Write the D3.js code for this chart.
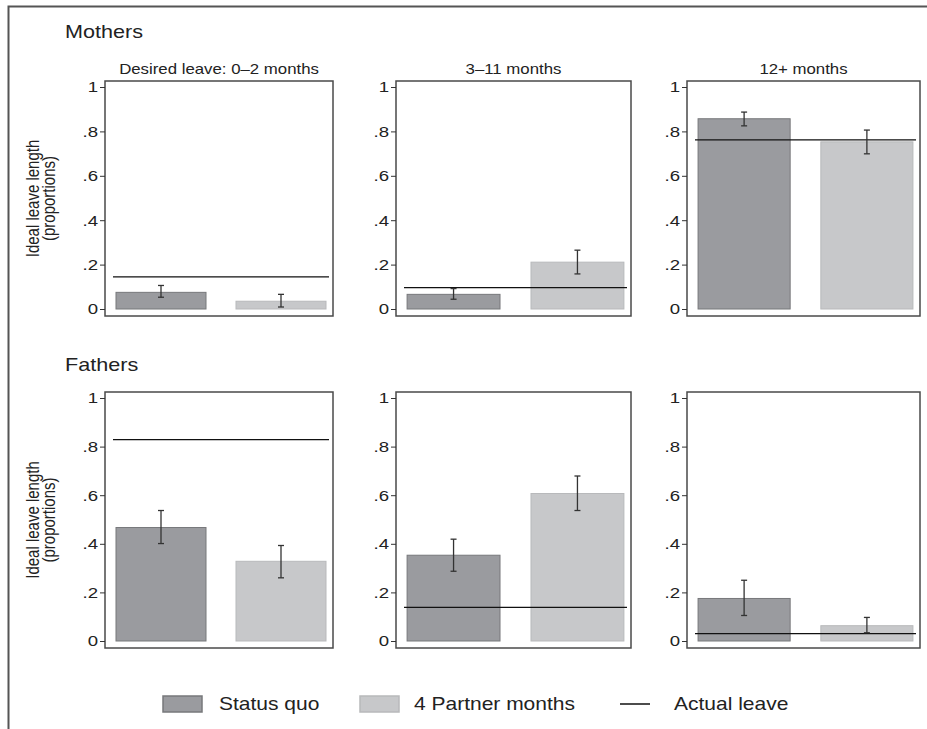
<!DOCTYPE html>
<html>
<head>
<meta charset="utf-8">
<script src="https://cdn.jsdelivr.net/npm/d3@7"></script>
<style>
  body { margin: 0; background: #fff; }
  svg { display: block; font-family: "Liberation Sans", Arial, Helvetica, sans-serif; }
</style>
</head>
<body>
<div id="chart"></div>
<script>
// ── Data ─────────────────────────────────────────────────────────────────────
const groups     = ['Mothers', 'Fathers'];
const leaveCats  = ['Desired leave: 0–2 months', '3–11 months', '12+ months'];
const series     = ['Status quo', '4 Partner months'];
const yTicks     = [0, 0.2, 0.4, 0.6, 0.8, 1];

// proportions per leave category (0–2, 3–11, 12+)
const mothersStatus    = [0.075, 0.066, 0.857];
const mothersStatusLo  = [0.053, 0.044, 0.825];
const mothersStatusHi  = [0.106, 0.092, 0.887];
const mothersPartner   = [0.035, 0.211, 0.753];
const mothersPartnerLo = [0.009, 0.158, 0.699];
const mothersPartnerHi = [0.066, 0.265, 0.806];
const mothersActual    = [0.145, 0.096, 0.762];

const fathersStatus    = [0.467, 0.353, 0.175];
const fathersStatusLo  = [0.401, 0.287, 0.105];
const fathersStatusHi  = [0.537, 0.419, 0.250];
const fathersPartner   = [0.328, 0.607, 0.063];
const fathersPartnerLo = [0.260, 0.537, 0.034];
const fathersPartnerHi = [0.393, 0.679, 0.097];
const fathersActual    = [0.829, 0.138, 0.030];

const panelData = {
  Mothers: { val: [mothersStatus, mothersPartner], lo: [mothersStatusLo, mothersPartnerLo],
             hi: [mothersStatusHi, mothersPartnerHi], actual: mothersActual },
  Fathers: { val: [fathersStatus, fathersPartner], lo: [fathersStatusLo, fathersPartnerLo],
             hi: [fathersStatusHi, fathersPartnerHi], actual: fathersActual }
};

// ── Layout ───────────────────────────────────────────────────────────────────
const W = 927, H = 729;
const SX = 1.2;                       // text in the original is a bit wide
const colL = [105, 396, 687], colR = [333, 631, 920];
const rowT = [81, 392], rowB = [316, 648];
const titleY = [38, 371];
const fill   = ['#9a9b9f', '#c7c8ca'];
const stroke = ['#77787b', '#b8b9bb'];
const ink = '#222';

const svg = d3.select('#chart').append('svg').attr('width', W).attr('height', H);

// stretched text helper
function txt(g, x, y, s, size, anchor = 'start') {
  return g.append('text')
    .attr('transform', `translate(${x},${y}) scale(${SX},1)`)
    .attr('font-size', size).attr('fill', ink)
    .attr('text-anchor', anchor).text(s);
}

// outer frame (left and top edges show)
svg.append('path').attr('d', `M8.5,${H} V6.5 H${W}`)
  .attr('fill', 'none').attr('stroke', '#555').attr('stroke-width', 2);

const fmt = d => d === 0 ? '0' : d === 1 ? '1' : d3.format('.1f')(d).replace(/^0/, '');

groups.forEach((grp, r) => {
  const D = panelData[grp];
  txt(svg, 65, titleY[r], grp, 18);

  // y-axis title, two lines
  const yMid = (rowT[r] + rowB[r]) / 2;
  const yt = svg.append('text')
    .attr('transform', `translate(39,${yMid}) scale(${SX},1) rotate(-90)`)
    .attr('font-size', 15).attr('fill', ink).attr('text-anchor', 'middle');
  yt.append('tspan').attr('x', 0).attr('dy', 0).text('Ideal leave length');
  yt.append('tspan').attr('x', 0).attr('dy', 13.5).text('(proportions)');

  leaveCats.forEach((cat, c) => {
    const L = colL[c], R = colR[c], T = rowT[r], B = rowB[r];
    const y = d3.scaleLinear().domain([0, 1]).range([B - 7, T + 6]);
    const x = d3.scaleBand().domain(series).range([L + 8, R - 4])
      .paddingInner(0.25).paddingOuter(0.025);
    const g = svg.append('g');

    if (r === 0) txt(g, (L + R) / 2, 74, cat, 14, 'middle');

    // plot box
    g.append('rect').attr('x', L).attr('y', T).attr('width', R - L).attr('height', B - T)
      .attr('fill', '#fff').attr('stroke', '#4a4a4a').attr('stroke-width', 1.5);

    // y axis
    const ax = g.append('g').attr('transform', `translate(${L},0)`)
      .call(d3.axisLeft(y).tickValues(yTicks).tickSize(5).tickFormat(fmt));
    ax.select('.domain').remove();
    ax.selectAll('line').attr('stroke', '#333');
    ax.selectAll('text')
      .attr('x', -7 / SX).attr('transform', `scale(${SX},1)`)
      .attr('font-size', 15.5).attr('font-family', 'Liberation Sans, Arial, sans-serif')
      .attr('fill', ink);

    // bars
    series.forEach((s, i) => {
      g.append('rect')
        .attr('x', x(s)).attr('width', x.bandwidth())
        .attr('y', y(D.val[i][c])).attr('height', y(0) - y(D.val[i][c]))
        .attr('fill', fill[i]).attr('stroke', stroke[i]).attr('stroke-width', 1);
    });

    // actual leave line
    g.append('line')
      .attr('x1', x.range()[0]).attr('x2', x.range()[1])
      .attr('y1', y(D.actual[c])).attr('y2', y(D.actual[c]))
      .attr('stroke', '#111').attr('stroke-width', 1.3);

    // error bars
    series.forEach((s, i) => {
      const cx = x(s) + x.bandwidth() / 2;
      const lo = y(D.lo[i][c]), hi = y(D.hi[i][c]);
      const eg = g.append('g').attr('stroke', '#333').attr('stroke-width', 1.3);
      eg.append('line').attr('x1', cx).attr('x2', cx).attr('y1', lo).attr('y2', hi);
      eg.append('line').attr('x1', cx - 3).attr('x2', cx + 3).attr('y1', lo).attr('y2', lo);
      eg.append('line').attr('x1', cx - 3).attr('x2', cx + 3).attr('y1', hi).attr('y2', hi);
    });
  });
});

// ── Legend ───────────────────────────────────────────────────────────────────
const lg = svg.append('g');
const legY = 704;
[[163, 219], [360, 414]].forEach(([sx, tx], i) => {
  lg.append('rect').attr('x', sx).attr('y', legY - 8).attr('width', 39).attr('height', 16)
    .attr('fill', fill[i]).attr('stroke', stroke[i]).attr('stroke-width', 1.5);
  txt(lg, tx, legY + 6, series[i], 17.5);
});
lg.append('line').attr('x1', 620).attr('x2', 650).attr('y1', legY).attr('y2', legY)
  .attr('stroke', '#111').attr('stroke-width', 1.5);
txt(lg, 674, legY + 6, 'Actual leave', 17.5);
</script>
</body>
</html>
